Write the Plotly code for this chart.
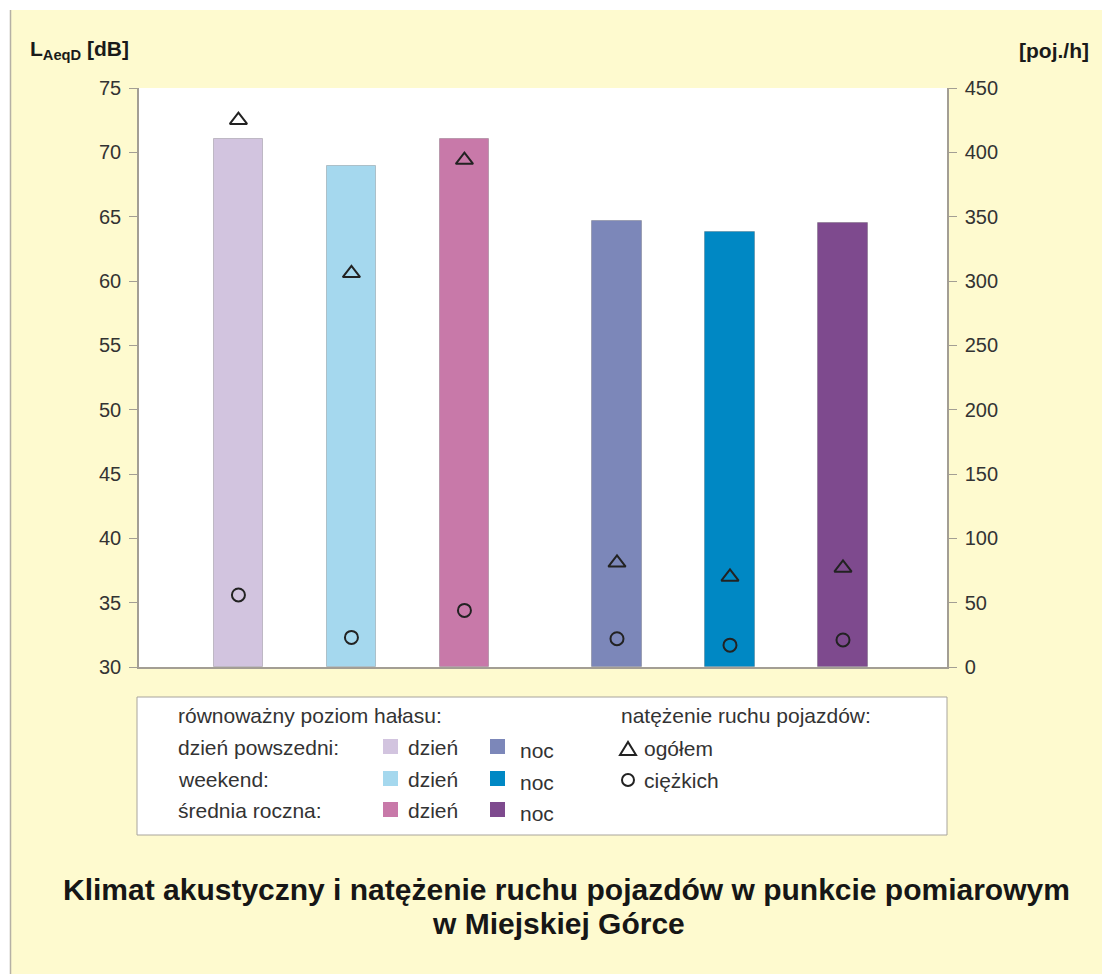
import plotly.graph_objects as go

# ---- data ----
categories = ["dzień powszedni – dzień", "weekend – dzień", "średnia roczna – dzień",
              "dzień powszedni – noc", "weekend – noc", "średnia roczna – noc"]
laeq_db = [71.0, 68.9, 71.0, 64.7, 63.8, 64.5]
traffic_total = [425, 306, 394, 81, 70, 77]
traffic_heavy = [56, 23, 44, 22, 17, 21]
left_ticks = [30, 35, 40, 45, 50, 55, 60, 65, 70, 75]
right_ticks = [0, 50, 100, 150, 200, 250, 300, 350, 400, 450]

# ---- styles / layout ----
bar_colors = ["#D2C4DF", "#A5D8EE", "#C879A9", "#7C87B9", "#0088C4", "#7E4A8E"]
x_pos = [0.88, 1.88, 2.88, 4.23, 5.23, 6.23]

W, H = 1102, 974
L, R, T, B = 139, 947, 88, 667
def px(x):
    return (x - L) / (R - L)
def py(y):
    return (B - y) / (B - T)

YEL = "#FEFACF"
TXT = "#333333"
AX = "#A39E94"
FONT = "Liberation Sans, Arial, sans-serif"

fig = go.Figure()
fig.add_trace(go.Bar(x=x_pos, y=[v - 30 for v in laeq_db], base=30, width=0.44,
                     marker=dict(color=bar_colors, line=dict(color="rgba(0,0,0,0.18)", width=1)),
                     hovertext=categories, showlegend=False))
fig.add_trace(go.Scatter(x=x_pos, y=traffic_total, yaxis="y2", mode="markers",
                         marker=dict(symbol="triangle-up-open", size=15, color="#222222",
                                     line=dict(width=2)), showlegend=False))
fig.add_trace(go.Scatter(x=x_pos, y=traffic_heavy, yaxis="y2", mode="markers",
                         marker=dict(symbol="circle-open", size=13, color="#222222",
                                     line=dict(width=2)), showlegend=False))

shapes = []
# white strips + gray border of the page
shapes.append(dict(type="rect", xref="paper", yref="paper", x0=px(0), x1=px(W), y0=py(0), y1=py(10),
                   fillcolor="white", line=dict(width=0), layer="below"))
shapes.append(dict(type="rect", xref="paper", yref="paper", x0=px(0), x1=px(10), y0=py(0), y1=py(H),
                   fillcolor="white", line=dict(width=0), layer="below"))
shapes.append(dict(type="line", xref="paper", yref="paper", x0=px(10.5), x1=px(10.5), y0=py(10), y1=py(H),
                   line=dict(color="#B5B0A5", width=1.5)))
# legend box
shapes.append(dict(type="rect", xref="paper", yref="paper", x0=px(137), x1=px(947), y0=py(697), y1=py(835),
                   fillcolor="white", line=dict(color="#A8A49C", width=1), layer="below"))

annotations = []
def txt(x, y, s, size=21, color=TXT, bold=False, xanchor="left"):
    annotations.append(dict(xref="paper", yref="paper", x=px(x), y=py(y), text=(f"<b>{s}</b>" if bold else s),
                            showarrow=False, xanchor=xanchor, yanchor="middle",
                            font=dict(family=FONT, size=size, color=color)))

txt(176, 715, "równoważny poziom hałasu:")
rows = ["dzień powszedni:", "weekend:", "średnia roczna:"]
row_y = [747, 779, 810]
for i, (lab, yy) in enumerate(zip(rows, row_y)):
    txt(176, yy, lab)
    shapes.append(dict(type="rect", xref="paper", yref="paper", x0=px(383), x1=px(398),
                       y0=py(yy - 8), y1=py(yy + 7), fillcolor=bar_colors[i], line=dict(width=0)))
    txt(406, yy, "dzień")
    shapes.append(dict(type="rect", xref="paper", yref="paper", x0=px(490), x1=px(505),
                       y0=py(yy - 8), y1=py(yy + 7), fillcolor=bar_colors[i + 3], line=dict(width=0)))
    txt(518, yy + 3, "noc")

txt(619, 715, "natężenie ruchu pojazdów:")
# legend triangle
tx, ty = 628, 749
shapes.append(dict(type="path", xref="paper", yref="paper",
                   path=f"M {px(tx-8)} {py(ty+6)} L {px(tx+8)} {py(ty+6)} L {px(tx)} {py(ty-7)} Z",
                   line=dict(color="#222222", width=2)))
txt(642, 748, "ogółem")
cx, cy = 628, 780
shapes.append(dict(type="circle", xref="paper", yref="paper", x0=px(cx-6), x1=px(cx+6), y0=py(cy-6), y1=py(cy+6),
                   line=dict(color="#222222", width=2)))
txt(642, 780, "ciężkich")

# axis titles
annotations.append(dict(xref="paper", yref="paper", x=px(28), y=py(50), xanchor="left", yanchor="middle",
                        text="<b>L<sub>AeqD</sub> [dB]</b>", showarrow=False,
                        font=dict(family=FONT, size=21, color="#1a1a1a")))
annotations.append(dict(xref="paper", yref="paper", x=px(1091), y=py(50), xanchor="right", yanchor="middle",
                        text="<b>[poj./h]</b>", showarrow=False,
                        font=dict(family=FONT, size=21, color="#1a1a1a")))
# title
annotations.append(dict(xref="paper", yref="paper", x=px(566), y=py(889), xanchor="center", yanchor="middle",
                        text="<b>Klimat akustyczny i natężenie ruchu pojazdów w punkcie pomiarowym</b>",
                        showarrow=False, font=dict(family=FONT, size=30, color="#161616")))
annotations.append(dict(xref="paper", yref="paper", x=px(558), y=py(923), xanchor="center", yanchor="middle",
                        text="<b>w Miejskiej Górce</b>",
                        showarrow=False, font=dict(family=FONT, size=30, color="#161616")))

fig.update_layout(
    width=W, height=H,
    margin=dict(l=L, r=W - R, t=T, b=H - B, pad=0),
    paper_bgcolor=YEL, plot_bgcolor="white",
    bargap=0, showlegend=False,
    xaxis=dict(range=[0, (R - L) / 113], showgrid=False, zeroline=False, showticklabels=False,
               ticks="", showline=True, linecolor=AX, linewidth=1.5, fixedrange=True),
    yaxis=dict(range=[30, 75], tickvals=left_ticks, showgrid=False, zeroline=False,
               ticks="outside", ticklen=8, tickcolor=AX, showline=True, linecolor=AX, linewidth=1.5,
               tickfont=dict(family=FONT, size=20, color=TXT), ticklabelstandoff=4),
    yaxis2=dict(range=[0, 450], tickvals=right_ticks, overlaying="y", side="right", showgrid=False,
                zeroline=False, ticks="outside", ticklen=8, tickcolor=AX, showline=True, linecolor=AX,
                linewidth=1.5, tickfont=dict(family=FONT, size=20, color=TXT), ticklabelstandoff=4),
    shapes=shapes, annotations=annotations,
    font=dict(family=FONT, color=TXT),
)

fig.write_html("out.html", config={"displayModeBar": False},
               post_script="document.body.style.margin='0';document.body.style.padding='0';")
